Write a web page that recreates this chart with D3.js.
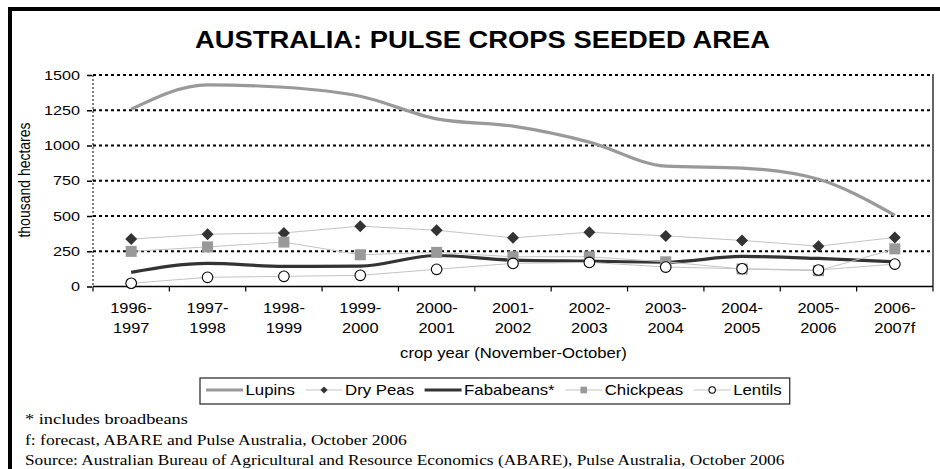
<!DOCTYPE html>
<html>
<head>
<meta charset="utf-8">
<script src="https://cdn.jsdelivr.net/npm/d3@7"></script>
<style>
  html, body { margin: 0; padding: 0; background: #fff; }
  svg { display: block; }
</style>
</head>
<body>
<svg id="chart" width="940" height="469"></svg>
<script>
// ---------- data ----------
const categories = ["1996-1997","1997-1998","1998-1999","1999-2000","2000-2001","2001-2002","2002-2003","2003-2004","2004-2005","2005-2006","2006-2007f"];
const lupins    = [1257,1430,1413,1349,1189,1137,1024,854,840,760,505];
const dryPeas   = [336,371,380,428,399,345,385,359,327,286,348];
const fababeans = [100,164,143,145,220,187,180,173,213,199,175];
const chickpeas = [249,281,315,225,242,211,211,175,124,112,267];
const lentils   = [23,65,72,79,122,164,171,138,126,117,159];
const yTicks    = [0,250,500,750,1000,1250,1500];
const seriesNames = ["Lupins","Dry Peas","Fababeans*","Chickpeas","Lentils"];
const titleText = "AUSTRALIA: PULSE CROPS SEEDED AREA";
const yTitle = "thousand hectares";
const xTitle = "crop year (November-October)";
const notes = [
  "* includes broadbeans",
  "f: forecast, ABARE and Pulse Australia, October 2006",
  "Source: Australian Bureau of Agricultural and Resource Economics (ABARE), Pulse Australia, October 2006"
];

// ---------- setup ----------
const SANS = "'Liberation Sans', Arial, sans-serif";
const SERIF = "'Liberation Serif', 'Times New Roman', serif";
const svg = d3.select("#chart");
const plot = {left: 93, right: 933, top: 75, bottom: 286.5};

const x = d3.scaleBand().domain(categories).range([plot.left, plot.right]);
const cx = c => x(c) + x.bandwidth() / 2;
const y = d3.scaleLinear().domain([0, 1500]).range([plot.bottom, plot.top]);

function txt(parent, str, px, py, o) {
  const t = parent.append("text")
    .attr("text-anchor", o.anchor || "start")
    .style("font-family", o.family || SANS)
    .style("font-size", o.size + "px")
    .style("font-weight", o.weight || "normal")
    .attr("fill", o.fill || "#000")
    .text(str);
  let sx = o.sx || 1;
  if (o.width) sx = o.width / t.node().getComputedTextLength();
  t.attr("transform", `translate(${px},${py}) scale(${sx},1)` + (o.rotate ? ` rotate(${o.rotate})` : ""));
  return sx;
}

// outer frame
svg.append("rect").attr("x", 10).attr("y", 9).attr("width", 1200).attr("height", 1200)
  .attr("fill", "none").attr("stroke", "#000").attr("stroke-width", 4);

// title
txt(svg, titleText, 482.5, 48, {anchor: "middle", size: 23, weight: "bold", width: 575});

// gridlines
svg.append("g").selectAll("line").data(yTicks.filter(v => v > 0)).join("line")
  .attr("x1", plot.left).attr("x2", plot.right)
  .attr("y1", d => y(d)).attr("y2", d => y(d))
  .attr("stroke", "#000").attr("stroke-width", 2).attr("stroke-dasharray", "3,3");

// left plot border (dotted) and right border
svg.append("line").attr("x1", plot.left).attr("x2", plot.left).attr("y1", plot.top).attr("y2", plot.bottom)
  .attr("stroke", "#000").attr("stroke-width", 1).attr("stroke-dasharray", "2,2");
svg.append("line").attr("x1", plot.right).attr("x2", plot.right).attr("y1", plot.top - 1).attr("y2", plot.bottom)
  .attr("stroke", "#333").attr("stroke-width", 1.5);

// y axis ticks + labels
const yAxis = d3.axisLeft(y).tickValues(yTicks).tickSize(5).tickPadding(0);
const yg = svg.append("g").attr("transform", `translate(${plot.left - 1},0)`).call(yAxis);
yg.select(".domain").remove();
yg.selectAll(".tick line").attr("stroke", "#000").attr("stroke-width", 1.5);
yg.selectAll(".tick text").remove();
const ySx = (() => {
  const t = svg.append("text").style("font-family", SANS).style("font-size", "12.5px").text("1500");
  const w = t.node().getComputedTextLength(); t.remove(); return 36 / w;
})();
yTicks.forEach(v => txt(svg, String(v), 80, y(v) + 4.5, {anchor: "end", size: 12.5, sx: ySx}));

// y title
txt(svg, yTitle, 30, 180, {anchor: "middle", size: 14, sx: 1.2, rotate: -90});

// x axis
svg.append("line").attr("x1", plot.left).attr("x2", plot.right).attr("y1", plot.bottom).attr("y2", plot.bottom)
  .attr("stroke", "#000").attr("stroke-width", 1.5);
const bounds = categories.map(c => x(c)).concat([plot.right]);
svg.append("g").selectAll("line").data(bounds).join("line")
  .attr("x1", d => d).attr("x2", d => d).attr("y1", plot.bottom).attr("y2", plot.bottom + 5)
  .attr("stroke", "#000").attr("stroke-width", 1.2);
const xSx = (() => {
  const t = svg.append("text").style("font-family", SANS).style("font-size", "15px").text("1996-");
  const w = t.node().getComputedTextLength(); t.remove(); return 42 / w;
})();
categories.forEach(c => {
  const i = c.indexOf("-");
  txt(svg, c.slice(0, i + 1), cx(c), 313, {anchor: "middle", size: 15, sx: xSx});
  txt(svg, c.slice(i + 1), cx(c), 332.5, {anchor: "middle", size: 15, sx: xSx});
});

// x title
txt(svg, xTitle, 513.5, 358, {anchor: "middle", size: 14.5, width: 227});

// ---------- series ----------
const smooth = d3.line().x((d, i) => cx(categories[i])).y(d => y(d)).curve(d3.curveMonotoneX);
const straight = d3.line().x((d, i) => cx(categories[i])).y(d => y(d));
const diamond = "M0,-6L6,0L0,6L-6,0Z";

const series = [
  {name: seriesNames[0], values: lupins, gen: smooth, stroke: "#999", width: 3.2, marker: null},
  {name: seriesNames[1], values: dryPeas, gen: straight, stroke: "#c4c4c4", width: 1, marker: "diamond"},
  {name: seriesNames[2], values: fababeans, gen: smooth, stroke: "#333", width: 3.2, marker: null},
  {name: seriesNames[3], values: chickpeas, gen: straight, stroke: "#c4c4c4", width: 1, marker: "square"},
  {name: seriesNames[4], values: lentils, gen: straight, stroke: "#c4c4c4", width: 1, marker: "circle"}
];

function drawMarker(g, type, px, py, scale) {
  const s = scale || 1;
  if (type === "diamond") {
    g.append("path").attr("d", diamond).attr("transform", `translate(${px},${py}) scale(${s})`).attr("fill", "#333");
  } else if (type === "square") {
    g.append("rect").attr("x", px - 5.5 * s).attr("y", py - 5.5 * s).attr("width", 11 * s).attr("height", 11 * s).attr("fill", "#999");
  } else if (type === "circle") {
    g.append("circle").attr("cx", px).attr("cy", py).attr("r", 5.3 * s).attr("fill", "#fff").attr("stroke", "#000").attr("stroke-width", 1.1);
  }
}

series.forEach(s => {
  const g = svg.append("g");
  g.append("path").attr("d", s.gen(s.values)).attr("fill", "none")
    .attr("stroke", s.stroke).attr("stroke-width", s.width).attr("stroke-linejoin", "round");
  if (s.marker) s.values.forEach((v, i) => drawMarker(g, s.marker, cx(categories[i]), y(v)));
});

// ---------- legend ----------
const leg = svg.append("g");
const legBox = leg.append("rect").attr("fill", "#fff").attr("stroke", "#222").attr("stroke-width", 1.2);
let cur = 206;
const legBase = 395;
const itemGap = 10.5;
series.forEach(s => {
  const lineLen = 37;
  leg.append("line").attr("x1", cur).attr("x2", cur + lineLen).attr("y1", legBase - 5).attr("y2", legBase - 5)
    .attr("stroke", s.stroke).attr("stroke-width", s.width);
  if (s.marker) drawMarker(leg, s.marker, cur + lineLen / 2, legBase - 5, 0.6);
  cur += lineLen + 2.5;
  const t = leg.append("text").style("font-family", SANS).style("font-size", "14px").text(s.name);
  const w = t.node().getComputedTextLength() * 1.2;
  t.attr("transform", `translate(${cur},${legBase}) scale(1.2,1)`);
  cur += w + itemGap;
});
legBox.attr("x", 200).attr("y", 378).attr("width", cur - itemGap + 8 - 200).attr("height", 26);

// ---------- notes ----------
const noteW = [163, 382, 760];
const noteY = [424, 444.5, 465];
notes.forEach((n, i) => txt(svg, n, 25, noteY[i], {size: 15.5, family: SERIF, width: noteW[i]}));
</script>
</body>
</html>
